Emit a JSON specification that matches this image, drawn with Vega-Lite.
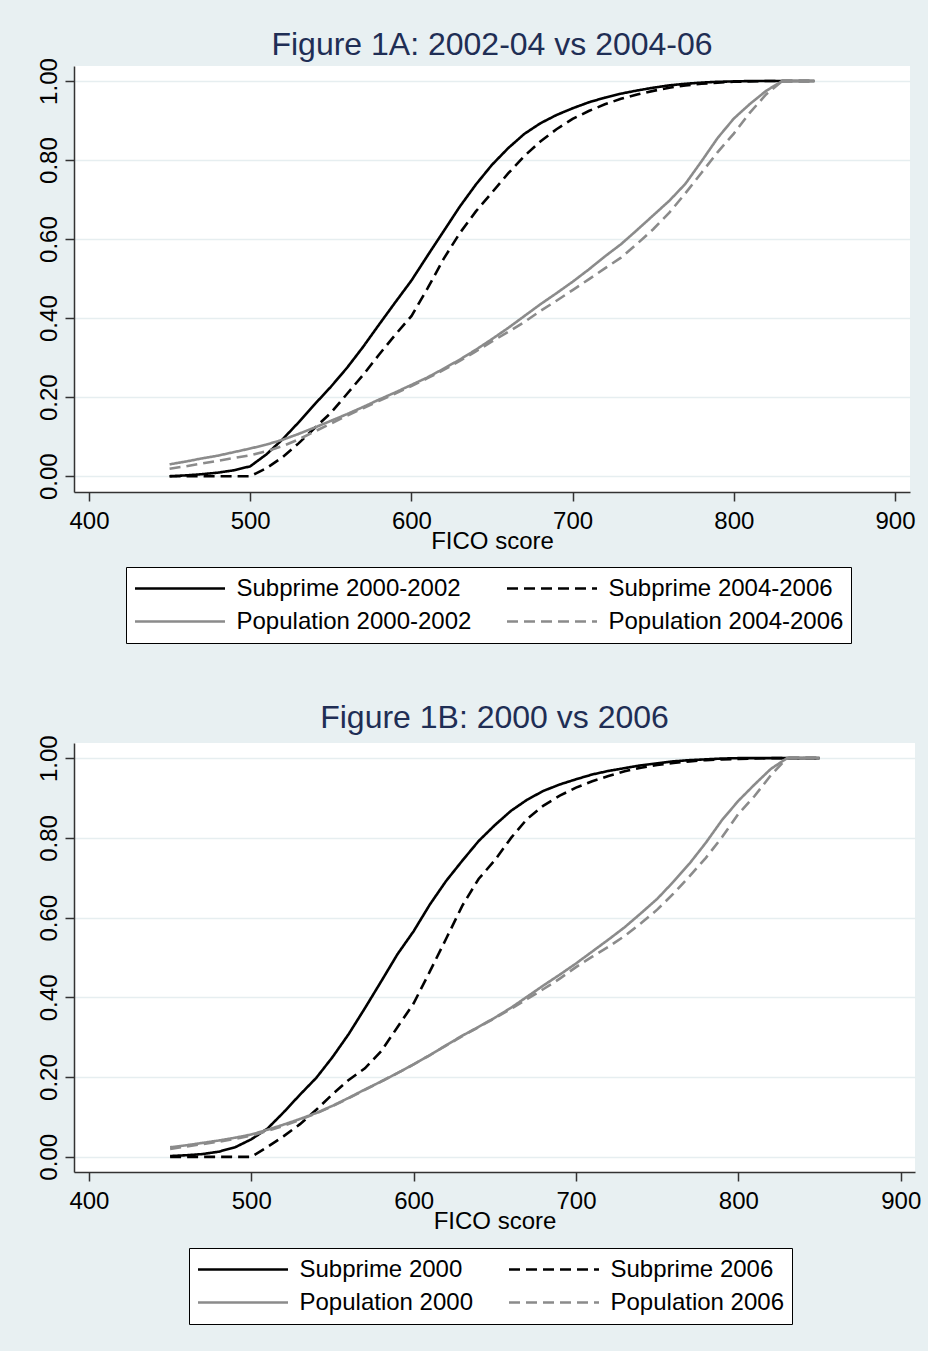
{
  "$schema": "https://vega.github.io/schema/vega-lite/v6.json",
  "background": "#e8f0f2",
  "padding": {"left": 36, "top": 28, "right": 10, "bottom": 26},
  "spacing": 57,
  "datasets": {
    "a": [
      {"fico": 450, "Subprime 2000-2002": 0.000, "Subprime 2004-2006": 0.000, "Population 2000-2002": 0.030, "Population 2004-2006": 0.019},
      {"fico": 460, "Subprime 2000-2002": 0.002, "Subprime 2004-2006": 0.000, "Population 2000-2002": 0.037, "Population 2004-2006": 0.025},
      {"fico": 470, "Subprime 2000-2002": 0.005, "Subprime 2004-2006": 0.000, "Population 2000-2002": 0.045, "Population 2004-2006": 0.032},
      {"fico": 480, "Subprime 2000-2002": 0.009, "Subprime 2004-2006": 0.000, "Population 2000-2002": 0.052, "Population 2004-2006": 0.039},
      {"fico": 490, "Subprime 2000-2002": 0.015, "Subprime 2004-2006": 0.000, "Population 2000-2002": 0.061, "Population 2004-2006": 0.046},
      {"fico": 500, "Subprime 2000-2002": 0.025, "Subprime 2004-2006": 0.000, "Population 2000-2002": 0.070, "Population 2004-2006": 0.053},
      {"fico": 510, "Subprime 2000-2002": 0.055, "Subprime 2004-2006": 0.020, "Population 2000-2002": 0.080, "Population 2004-2006": 0.063},
      {"fico": 520, "Subprime 2000-2002": 0.093, "Subprime 2004-2006": 0.048, "Population 2000-2002": 0.092, "Population 2004-2006": 0.076},
      {"fico": 530, "Subprime 2000-2002": 0.136, "Subprime 2004-2006": 0.083, "Population 2000-2002": 0.107, "Population 2004-2006": 0.093},
      {"fico": 540, "Subprime 2000-2002": 0.182, "Subprime 2004-2006": 0.122, "Population 2000-2002": 0.123, "Population 2004-2006": 0.113},
      {"fico": 550, "Subprime 2000-2002": 0.226, "Subprime 2004-2006": 0.160, "Population 2000-2002": 0.140, "Population 2004-2006": 0.133},
      {"fico": 560, "Subprime 2000-2002": 0.274, "Subprime 2004-2006": 0.208, "Population 2000-2002": 0.157, "Population 2004-2006": 0.153},
      {"fico": 570, "Subprime 2000-2002": 0.327, "Subprime 2004-2006": 0.256, "Population 2000-2002": 0.175, "Population 2004-2006": 0.172},
      {"fico": 580, "Subprime 2000-2002": 0.384, "Subprime 2004-2006": 0.308, "Population 2000-2002": 0.194, "Population 2004-2006": 0.191},
      {"fico": 590, "Subprime 2000-2002": 0.440, "Subprime 2004-2006": 0.358, "Population 2000-2002": 0.212, "Population 2004-2006": 0.209},
      {"fico": 600, "Subprime 2000-2002": 0.495, "Subprime 2004-2006": 0.405, "Population 2000-2002": 0.231, "Population 2004-2006": 0.228},
      {"fico": 610, "Subprime 2000-2002": 0.558, "Subprime 2004-2006": 0.475, "Population 2000-2002": 0.250, "Population 2004-2006": 0.248},
      {"fico": 620, "Subprime 2000-2002": 0.620, "Subprime 2004-2006": 0.550, "Population 2000-2002": 0.272, "Population 2004-2006": 0.269},
      {"fico": 630, "Subprime 2000-2002": 0.682, "Subprime 2004-2006": 0.615, "Population 2000-2002": 0.295, "Population 2004-2006": 0.292},
      {"fico": 640, "Subprime 2000-2002": 0.738, "Subprime 2004-2006": 0.670, "Population 2000-2002": 0.320, "Population 2004-2006": 0.316},
      {"fico": 650, "Subprime 2000-2002": 0.788, "Subprime 2004-2006": 0.718, "Population 2000-2002": 0.347, "Population 2004-2006": 0.341},
      {"fico": 660, "Subprime 2000-2002": 0.830, "Subprime 2004-2006": 0.766, "Population 2000-2002": 0.375, "Population 2004-2006": 0.365},
      {"fico": 670, "Subprime 2000-2002": 0.866, "Subprime 2004-2006": 0.810, "Population 2000-2002": 0.405, "Population 2004-2006": 0.390},
      {"fico": 680, "Subprime 2000-2002": 0.893, "Subprime 2004-2006": 0.847, "Population 2000-2002": 0.435, "Population 2004-2006": 0.418},
      {"fico": 690, "Subprime 2000-2002": 0.914, "Subprime 2004-2006": 0.878, "Population 2000-2002": 0.463, "Population 2004-2006": 0.444},
      {"fico": 700, "Subprime 2000-2002": 0.931, "Subprime 2004-2006": 0.904, "Population 2000-2002": 0.492, "Population 2004-2006": 0.471},
      {"fico": 710, "Subprime 2000-2002": 0.946, "Subprime 2004-2006": 0.924, "Population 2000-2002": 0.523, "Population 2004-2006": 0.498},
      {"fico": 720, "Subprime 2000-2002": 0.958, "Subprime 2004-2006": 0.941, "Population 2000-2002": 0.556, "Population 2004-2006": 0.526},
      {"fico": 730, "Subprime 2000-2002": 0.968, "Subprime 2004-2006": 0.955, "Population 2000-2002": 0.587, "Population 2004-2006": 0.553},
      {"fico": 740, "Subprime 2000-2002": 0.976, "Subprime 2004-2006": 0.966, "Population 2000-2002": 0.623, "Population 2004-2006": 0.588},
      {"fico": 750, "Subprime 2000-2002": 0.983, "Subprime 2004-2006": 0.975, "Population 2000-2002": 0.660, "Population 2004-2006": 0.625},
      {"fico": 760, "Subprime 2000-2002": 0.989, "Subprime 2004-2006": 0.983, "Population 2000-2002": 0.697, "Population 2004-2006": 0.667},
      {"fico": 770, "Subprime 2000-2002": 0.993, "Subprime 2004-2006": 0.989, "Population 2000-2002": 0.740, "Population 2004-2006": 0.716},
      {"fico": 780, "Subprime 2000-2002": 0.996, "Subprime 2004-2006": 0.993, "Population 2000-2002": 0.797, "Population 2004-2006": 0.768},
      {"fico": 790, "Subprime 2000-2002": 0.998, "Subprime 2004-2006": 0.996, "Population 2000-2002": 0.856, "Population 2004-2006": 0.820},
      {"fico": 800, "Subprime 2000-2002": 0.999, "Subprime 2004-2006": 0.998, "Population 2000-2002": 0.905, "Population 2004-2006": 0.867},
      {"fico": 810, "Subprime 2000-2002": 1.000, "Subprime 2004-2006": 0.999, "Population 2000-2002": 0.942, "Population 2004-2006": 0.920},
      {"fico": 820, "Subprime 2000-2002": 1.000, "Subprime 2004-2006": 1.000, "Population 2000-2002": 0.975, "Population 2004-2006": 0.966},
      {"fico": 830, "Subprime 2000-2002": 1.000, "Subprime 2004-2006": 1.000, "Population 2000-2002": 1.000, "Population 2004-2006": 1.000},
      {"fico": 850, "Subprime 2000-2002": 1.000, "Subprime 2004-2006": 1.000, "Population 2000-2002": 1.000, "Population 2004-2006": 1.000}
    ],
    "b": [
      {"fico": 450, "Subprime 2000": 0.002, "Subprime 2006": 0.000, "Population 2000": 0.024, "Population 2006": 0.020},
      {"fico": 460, "Subprime 2000": 0.004, "Subprime 2006": 0.000, "Population 2000": 0.029, "Population 2006": 0.026},
      {"fico": 470, "Subprime 2000": 0.007, "Subprime 2006": 0.000, "Population 2000": 0.035, "Population 2006": 0.032},
      {"fico": 480, "Subprime 2000": 0.013, "Subprime 2006": 0.000, "Population 2000": 0.041, "Population 2006": 0.038},
      {"fico": 490, "Subprime 2000": 0.024, "Subprime 2006": 0.000, "Population 2000": 0.048, "Population 2006": 0.045},
      {"fico": 500, "Subprime 2000": 0.044, "Subprime 2006": 0.000, "Population 2000": 0.056, "Population 2006": 0.053},
      {"fico": 510, "Subprime 2000": 0.071, "Subprime 2006": 0.025, "Population 2000": 0.068, "Population 2006": 0.065},
      {"fico": 520, "Subprime 2000": 0.112, "Subprime 2006": 0.052, "Population 2000": 0.081, "Population 2006": 0.078},
      {"fico": 530, "Subprime 2000": 0.156, "Subprime 2006": 0.082, "Population 2000": 0.095, "Population 2006": 0.093},
      {"fico": 540, "Subprime 2000": 0.198, "Subprime 2006": 0.118, "Population 2000": 0.110, "Population 2006": 0.109},
      {"fico": 550, "Subprime 2000": 0.250, "Subprime 2006": 0.157, "Population 2000": 0.128, "Population 2006": 0.127},
      {"fico": 560, "Subprime 2000": 0.308, "Subprime 2006": 0.193, "Population 2000": 0.148, "Population 2006": 0.147},
      {"fico": 570, "Subprime 2000": 0.373, "Subprime 2006": 0.222, "Population 2000": 0.169, "Population 2006": 0.168},
      {"fico": 580, "Subprime 2000": 0.440, "Subprime 2006": 0.265, "Population 2000": 0.189, "Population 2006": 0.189},
      {"fico": 590, "Subprime 2000": 0.508, "Subprime 2006": 0.325, "Population 2000": 0.210, "Population 2006": 0.210},
      {"fico": 600, "Subprime 2000": 0.566, "Subprime 2006": 0.385, "Population 2000": 0.232, "Population 2006": 0.232},
      {"fico": 610, "Subprime 2000": 0.633, "Subprime 2006": 0.465, "Population 2000": 0.255, "Population 2006": 0.255},
      {"fico": 620, "Subprime 2000": 0.692, "Subprime 2006": 0.547, "Population 2000": 0.280, "Population 2006": 0.279},
      {"fico": 630, "Subprime 2000": 0.743, "Subprime 2006": 0.630, "Population 2000": 0.304, "Population 2006": 0.303},
      {"fico": 640, "Subprime 2000": 0.792, "Subprime 2006": 0.697, "Population 2000": 0.326, "Population 2006": 0.325},
      {"fico": 650, "Subprime 2000": 0.832, "Subprime 2006": 0.744, "Population 2000": 0.349, "Population 2006": 0.348},
      {"fico": 660, "Subprime 2000": 0.868, "Subprime 2006": 0.800, "Population 2000": 0.374, "Population 2006": 0.371},
      {"fico": 670, "Subprime 2000": 0.896, "Subprime 2006": 0.848, "Population 2000": 0.402, "Population 2006": 0.396},
      {"fico": 680, "Subprime 2000": 0.918, "Subprime 2006": 0.881, "Population 2000": 0.430, "Population 2006": 0.421},
      {"fico": 690, "Subprime 2000": 0.934, "Subprime 2006": 0.906, "Population 2000": 0.457, "Population 2006": 0.447},
      {"fico": 700, "Subprime 2000": 0.947, "Subprime 2006": 0.926, "Population 2000": 0.485, "Population 2006": 0.476},
      {"fico": 710, "Subprime 2000": 0.959, "Subprime 2006": 0.942, "Population 2000": 0.515, "Population 2006": 0.502},
      {"fico": 720, "Subprime 2000": 0.968, "Subprime 2006": 0.955, "Population 2000": 0.545, "Population 2006": 0.527},
      {"fico": 730, "Subprime 2000": 0.975, "Subprime 2006": 0.967, "Population 2000": 0.576, "Population 2006": 0.554},
      {"fico": 740, "Subprime 2000": 0.982, "Subprime 2006": 0.976, "Population 2000": 0.611, "Population 2006": 0.586},
      {"fico": 750, "Subprime 2000": 0.987, "Subprime 2006": 0.983, "Population 2000": 0.647, "Population 2006": 0.620},
      {"fico": 760, "Subprime 2000": 0.992, "Subprime 2006": 0.988, "Population 2000": 0.690, "Population 2006": 0.660},
      {"fico": 770, "Subprime 2000": 0.995, "Subprime 2006": 0.992, "Population 2000": 0.736, "Population 2006": 0.704},
      {"fico": 780, "Subprime 2000": 0.997, "Subprime 2006": 0.995, "Population 2000": 0.788, "Population 2006": 0.750},
      {"fico": 790, "Subprime 2000": 0.999, "Subprime 2006": 0.997, "Population 2000": 0.845, "Population 2006": 0.802},
      {"fico": 800, "Subprime 2000": 1.000, "Subprime 2006": 0.998, "Population 2000": 0.893, "Population 2006": 0.860},
      {"fico": 810, "Subprime 2000": 1.000, "Subprime 2006": 0.999, "Population 2000": 0.934, "Population 2006": 0.905},
      {"fico": 820, "Subprime 2000": 1.000, "Subprime 2006": 1.000, "Population 2000": 0.973, "Population 2006": 0.957},
      {"fico": 830, "Subprime 2000": 1.000, "Subprime 2006": 1.000, "Population 2000": 1.000, "Population 2006": 1.000},
      {"fico": 850, "Subprime 2000": 1.000, "Subprime 2006": 1.000, "Population 2000": 1.000, "Population 2006": 1.000}
    ]
  },
  "vconcat": [
    {
      "title": {"text": "Figure 1A: 2002-04 vs 2004-06", "offset": -4},
      "width": 836,
      "height": 426,
      "data": {"name": "a"},
      "transform": [{"fold": ["Subprime 2000-2002", "Subprime 2004-2006", "Population 2000-2002", "Population 2004-2006"], "as": ["series", "share"]}],
      "mark": {"type": "line", "strokeWidth": 2.6},
      "encoding": {
        "x": {"field": "fico", "type": "quantitative", "scale": {"domain": [390.7, 909.3], "nice": false, "zero": false}, "axis": {"values": [400, 500, 600, 700, 800, 900], "title": "FICO score", "grid": false}},
        "y": {"field": "share", "type": "quantitative", "scale": {"domain": [-0.04, 1.038], "nice": false, "zero": false}, "axis": {"values": [0, 0.2, 0.4, 0.6, 0.8, 1], "format": ".2f", "title": null, "grid": true}},
        "color": {"field": "series", "type": "nominal", "scale": {"domain": ["Subprime 2000-2002", "Population 2000-2002", "Subprime 2004-2006", "Population 2004-2006"], "range": ["#000000", "#8b8b8b", "#000000", "#8b8b8b"]}, "legend": {"title": null, "orient": "none", "legendX": 52, "legendY": 501}},
        "strokeDash": {"field": "series", "type": "nominal", "scale": {"domain": ["Subprime 2000-2002", "Population 2000-2002", "Subprime 2004-2006", "Population 2004-2006"], "range": [[1, 0], [1, 0], [11, 6], [11, 6]]}, "legend": {"title": null, "orient": "none", "legendX": 52, "legendY": 501}}
      }
    },
    {
      "title": {"text": "Figure 1B: 2000 vs 2006", "offset": 0},
      "width": 841,
      "height": 429,
      "data": {"name": "b"},
      "transform": [{"fold": ["Subprime 2000", "Subprime 2006", "Population 2000", "Population 2006"], "as": ["series", "share"]}],
      "mark": {"type": "line", "strokeWidth": 2.6},
      "encoding": {
        "x": {"field": "fico", "type": "quantitative", "scale": {"domain": [390.8, 908.8], "nice": false, "zero": false}, "axis": {"values": [400, 500, 600, 700, 800, 900], "title": "FICO score", "grid": false}},
        "y": {"field": "share", "type": "quantitative", "scale": {"domain": [-0.038, 1.038], "nice": false, "zero": false}, "axis": {"values": [0, 0.2, 0.4, 0.6, 0.8, 1], "format": ".2f", "title": null, "grid": true}},
        "color": {"field": "series", "type": "nominal", "scale": {"domain": ["Subprime 2000", "Population 2000", "Subprime 2006", "Population 2006"], "range": ["#000000", "#8b8b8b", "#000000", "#8b8b8b"]}, "legend": {"title": null, "orient": "none", "legendX": 115, "legendY": 505}},
        "strokeDash": {"field": "series", "type": "nominal", "scale": {"domain": ["Subprime 2000", "Population 2000", "Subprime 2006", "Population 2006"], "range": [[1, 0], [1, 0], [11, 6], [11, 6]]}, "legend": {"title": null, "orient": "none", "legendX": 115, "legendY": 505}}
      }
    }
  ],
  "resolve": {
    "scale": {"x": "independent", "y": "independent", "color": "independent", "strokeDash": "independent"},
    "legend": {"color": "independent", "strokeDash": "independent"}
  },
  "config": {
    "font": "Liberation Sans",
    "view": {"fill": "#ffffff", "stroke": null},
    "title": {"fontSize": 32, "font": "Liberation Sans", "fontWeight": "normal", "color": "#1f2e55", "anchor": "middle", "baseline": "alphabetic"},
    "axis": {
      "labelFont": "Liberation Sans", "labelFontSize": 24, "labelColor": "#000000",
      "titleFont": "Liberation Sans", "titleFontSize": 24, "titleFontWeight": "normal", "titleColor": "#000000",
      "domainColor": "#333333", "domainWidth": 1.5, "tickColor": "#333333", "tickWidth": 1.5, "tickSize": 9,
      "labelOverlap": false, "labelFlush": false,
      "gridColor": "#e6eef0", "gridWidth": 1.5
    },
    "axisX": {"labelPadding": 8, "titlePadding": -4},
    "axisY": {"labelAngle": -90, "labelAlign": "center", "labelBaseline": "alphabetic", "labelPadding": 9},
    "legend": {
      "labelFont": "Liberation Sans", "labelFontSize": 24, "labelColor": "#000000", "labelLimit": 600,
      "symbolType": "stroke", "symbolSize": 8100, "symbolStrokeWidth": 2.6,
      "labelOffset": 10, "columns": 2, "columnPadding": 34, "rowPadding": 5, "padding": 7.5,
      "strokeColor": "#000000", "fillColor": "#ffffff", "clipHeight": 28
    }
  }
}
